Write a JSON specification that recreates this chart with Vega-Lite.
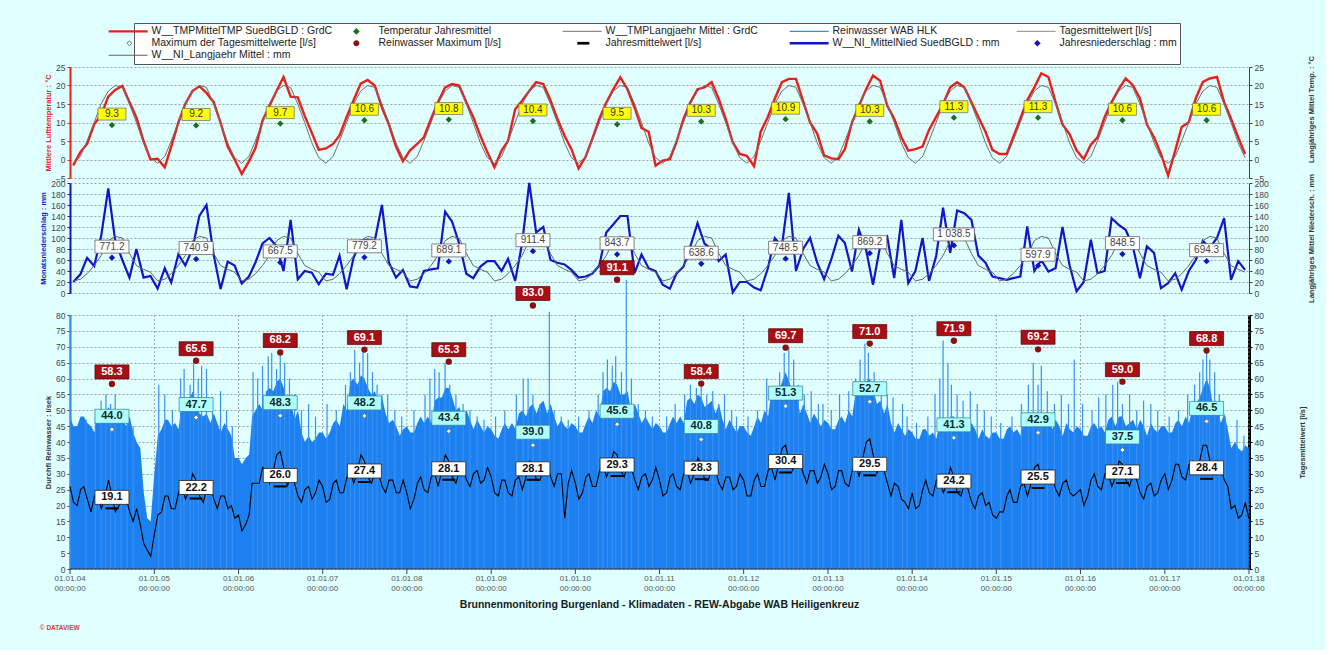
{
"$schema":"https://vega.github.io/schema/vega-lite/v6.json",
"background":"#e0ffff",
"padding":{"left":39,"top":22,"right":10,"bottom":19},
"config":{"font":"Liberation Sans","view":{"stroke":null},
"axis":{"labelFont":"Liberation Sans","titleFont":"Liberation Sans","labelFontSize":8.5,"labelColor":"#444","titleFontSize":7.5,"titleFontWeight":"bold","gridDash":[2,2],"gridColor":"#8a8a8a","gridWidth":0.8,"tickSize":3,"labelPadding":2},
"text":{"font":"Liberation Sans"},"legend":{"labelFont":"Liberation Sans"},"title":{"font":"Liberation Sans"}},
"title":{"text":"© DATAVIEW","orient":"bottom","anchor":"start","fontSize":6.5,"fontWeight":"bold","color":"#d04040","offset":14},
"datasets":{
"m":[
{"t":"2004-01-15","T":-1.6,"TL":-1,"P":20,"PL":22},{"t":"2004-02-15","T":2.0,"TL":0.8,"P":34,"PL":25},{"t":"2004-03-15","T":4.2,"TL":5,"P":64,"PL":35},{"t":"2004-04-15","T":9.5,"TL":10,"P":49,"PL":50},{"t":"2004-05-15","T":12.0,"TL":15,"P":103,"PL":68},{"t":"2004-06-15","T":17.0,"TL":18.5,"P":190,"PL":95},{"t":"2004-07-15","T":18.8,"TL":20,"P":95,"PL":103},{"t":"2004-08-15","T":19.9,"TL":19.5,"P":60,"PL":100},{"t":"2004-09-15","T":15.5,"TL":15,"P":28,"PL":72},{"t":"2004-10-15","T":11.4,"TL":10,"P":80,"PL":50},{"t":"2004-11-15","T":5.0,"TL":4.5,"P":28,"PL":43},{"t":"2004-12-15","T":0.0,"TL":0.5,"P":31,"PL":38},
{"t":"2005-01-15","T":0.2,"TL":-1,"P":8,"PL":22},{"t":"2005-02-15","T":-2.1,"TL":0.8,"P":45,"PL":25},{"t":"2005-03-15","T":3.5,"TL":5,"P":19,"PL":35},{"t":"2005-04-15","T":10.0,"TL":10,"P":70,"PL":50},{"t":"2005-05-15","T":15.0,"TL":15,"P":50,"PL":68},{"t":"2005-06-15","T":18.5,"TL":18.5,"P":80,"PL":95},{"t":"2005-07-15","T":19.8,"TL":20,"P":140,"PL":103},{"t":"2005-08-15","T":18.0,"TL":19.5,"P":160,"PL":100},{"t":"2005-09-15","T":15.5,"TL":15,"P":70,"PL":72},{"t":"2005-10-15","T":10.0,"TL":10,"P":7,"PL":50},{"t":"2005-11-15","T":3.5,"TL":4.5,"P":57,"PL":43},{"t":"2005-12-15","T":0.0,"TL":0.5,"P":50,"PL":38},
{"t":"2006-01-15","T":-3.9,"TL":-1,"P":17,"PL":22},{"t":"2006-02-15","T":-0.5,"TL":0.8,"P":30,"PL":25},{"t":"2006-03-15","T":3.0,"TL":5,"P":55,"PL":35},{"t":"2006-04-15","T":10.5,"TL":10,"P":90,"PL":50},{"t":"2006-05-15","T":14.5,"TL":15,"P":100,"PL":68},{"t":"2006-06-15","T":18.5,"TL":18.5,"P":85,"PL":95},{"t":"2006-07-15","T":22.3,"TL":20,"P":40,"PL":103},{"t":"2006-08-15","T":17.0,"TL":19.5,"P":133,"PL":100},{"t":"2006-09-15","T":16.8,"TL":15,"P":25,"PL":72},{"t":"2006-10-15","T":11.8,"TL":10,"P":40,"PL":50},{"t":"2006-11-15","T":7.2,"TL":4.5,"P":37,"PL":43},{"t":"2006-12-15","T":2.6,"TL":0.5,"P":16,"PL":38},
{"t":"2007-01-15","T":3.0,"TL":-1,"P":35,"PL":22},{"t":"2007-02-15","T":4.2,"TL":0.8,"P":33,"PL":25},{"t":"2007-03-15","T":6.5,"TL":5,"P":68,"PL":35},{"t":"2007-04-15","T":11.5,"TL":10,"P":7,"PL":50},{"t":"2007-05-15","T":16.0,"TL":15,"P":64,"PL":68},{"t":"2007-06-15","T":20.5,"TL":18.5,"P":95,"PL":95},{"t":"2007-07-15","T":21.5,"TL":20,"P":97,"PL":103},{"t":"2007-08-15","T":20.0,"TL":19.5,"P":95,"PL":100},{"t":"2007-09-15","T":14.0,"TL":15,"P":160,"PL":72},{"t":"2007-10-15","T":9.5,"TL":10,"P":56,"PL":50},{"t":"2007-11-15","T":3.5,"TL":4.5,"P":28,"PL":43},{"t":"2007-12-15","T":-0.5,"TL":0.5,"P":42,"PL":38},
{"t":"2008-01-15","T":2.5,"TL":-1,"P":12,"PL":22},{"t":"2008-02-15","T":4.2,"TL":0.8,"P":10,"PL":25},{"t":"2008-03-15","T":6.0,"TL":5,"P":40,"PL":35},{"t":"2008-04-15","T":11.0,"TL":10,"P":43,"PL":50},{"t":"2008-05-15","T":15.5,"TL":15,"P":45,"PL":68},{"t":"2008-06-15","T":19.5,"TL":18.5,"P":148,"PL":95},{"t":"2008-07-15","T":20.4,"TL":20,"P":130,"PL":103},{"t":"2008-08-15","T":20.0,"TL":19.5,"P":90,"PL":100},{"t":"2008-09-15","T":15.5,"TL":15,"P":35,"PL":72},{"t":"2008-10-15","T":11.5,"TL":10,"P":27,"PL":50},{"t":"2008-11-15","T":6.4,"TL":4.5,"P":48,"PL":43},{"t":"2008-12-15","T":2.0,"TL":0.5,"P":58,"PL":38},
{"t":"2009-01-15","T":-2.1,"TL":-1,"P":58,"PL":22},{"t":"2009-02-15","T":2.4,"TL":0.8,"P":40,"PL":25},{"t":"2009-03-15","T":5.0,"TL":5,"P":62,"PL":35},{"t":"2009-04-15","T":13.6,"TL":10,"P":22,"PL":50},{"t":"2009-05-15","T":15.9,"TL":15,"P":90,"PL":68},{"t":"2009-06-15","T":18.5,"TL":18.5,"P":200,"PL":95},{"t":"2009-07-15","T":20.9,"TL":20,"P":110,"PL":103},{"t":"2009-08-15","T":20.4,"TL":19.5,"P":120,"PL":100},{"t":"2009-09-15","T":16.0,"TL":15,"P":60,"PL":72},{"t":"2009-10-15","T":11.0,"TL":10,"P":55,"PL":50},{"t":"2009-11-15","T":6.4,"TL":4.5,"P":52,"PL":43},{"t":"2009-12-15","T":2.8,"TL":0.5,"P":42,"PL":38},
{"t":"2010-01-15","T":-2.4,"TL":-1,"P":28,"PL":22},{"t":"2010-02-15","T":0.8,"TL":0.8,"P":30,"PL":25},{"t":"2010-03-15","T":5.5,"TL":5,"P":35,"PL":35},{"t":"2010-04-15","T":11.0,"TL":10,"P":50,"PL":50},{"t":"2010-05-15","T":15.3,"TL":15,"P":110,"PL":68},{"t":"2010-06-15","T":19.0,"TL":18.5,"P":125,"PL":95},{"t":"2010-07-15","T":22.2,"TL":20,"P":140,"PL":103},{"t":"2010-08-15","T":19.0,"TL":19.5,"P":140,"PL":100},{"t":"2010-09-15","T":14.0,"TL":15,"P":36,"PL":72},{"t":"2010-10-15","T":8.5,"TL":10,"P":70,"PL":50},{"t":"2010-11-15","T":7.5,"TL":4.5,"P":45,"PL":43},{"t":"2010-12-15","T":-1.7,"TL":0.5,"P":40,"PL":38},
{"t":"2011-01-15","T":-0.3,"TL":-1,"P":15,"PL":22},{"t":"2011-02-15","T":0.1,"TL":0.8,"P":8,"PL":25},{"t":"2011-03-15","T":4.6,"TL":5,"P":35,"PL":35},{"t":"2011-04-15","T":11.0,"TL":10,"P":48,"PL":50},{"t":"2011-05-15","T":15.5,"TL":15,"P":85,"PL":68},{"t":"2011-06-15","T":19.0,"TL":18.5,"P":127,"PL":95},{"t":"2011-07-15","T":19.5,"TL":20,"P":90,"PL":103},{"t":"2011-08-15","T":20.9,"TL":19.5,"P":80,"PL":100},{"t":"2011-09-15","T":16.4,"TL":15,"P":58,"PL":72},{"t":"2011-10-15","T":11.0,"TL":10,"P":70,"PL":50},{"t":"2011-11-15","T":4.6,"TL":4.5,"P":1,"PL":43},{"t":"2011-12-15","T":1.5,"TL":0.5,"P":20,"PL":38},
{"t":"2012-01-15","T":1.0,"TL":-1,"P":20,"PL":22},{"t":"2012-02-15","T":-1.8,"TL":0.8,"P":10,"PL":25},{"t":"2012-03-15","T":7.5,"TL":5,"P":5,"PL":35},{"t":"2012-04-15","T":11.5,"TL":10,"P":45,"PL":50},{"t":"2012-05-15","T":16.4,"TL":15,"P":100,"PL":68},{"t":"2012-06-15","T":20.9,"TL":18.5,"P":85,"PL":95},{"t":"2012-07-15","T":21.8,"TL":20,"P":182,"PL":103},{"t":"2012-08-15","T":21.8,"TL":19.5,"P":40,"PL":100},{"t":"2012-09-15","T":15.8,"TL":15,"P":80,"PL":72},{"t":"2012-10-15","T":10.0,"TL":10,"P":100,"PL":50},{"t":"2012-11-15","T":7.0,"TL":4.5,"P":55,"PL":43},{"t":"2012-12-15","T":1.1,"TL":0.5,"P":25,"PL":38},
{"t":"2013-01-15","T":0.3,"TL":-1,"P":61,"PL":22},{"t":"2013-02-15","T":0.1,"TL":0.8,"P":104,"PL":25},{"t":"2013-03-15","T":2.8,"TL":5,"P":91,"PL":35},{"t":"2013-04-15","T":10.0,"TL":10,"P":39,"PL":50},{"t":"2013-05-15","T":14.5,"TL":15,"P":115,"PL":68},{"t":"2013-06-15","T":19.0,"TL":18.5,"P":79,"PL":95},{"t":"2013-07-15","T":22.7,"TL":20,"P":15,"PL":103},{"t":"2013-08-15","T":21.3,"TL":19.5,"P":85,"PL":100},{"t":"2013-09-15","T":14.5,"TL":15,"P":102,"PL":72},{"t":"2013-10-15","T":11.0,"TL":10,"P":27,"PL":50},{"t":"2013-11-15","T":6.0,"TL":4.5,"P":133,"PL":43},{"t":"2013-12-15","T":2.4,"TL":0.5,"P":18,"PL":38},
{"t":"2014-01-15","T":2.8,"TL":-1,"P":40,"PL":22},{"t":"2014-02-15","T":3.5,"TL":0.8,"P":100,"PL":25},{"t":"2014-03-15","T":8.0,"TL":5,"P":22,"PL":35},{"t":"2014-04-15","T":11.5,"TL":10,"P":67,"PL":50},{"t":"2014-05-15","T":15.0,"TL":15,"P":155,"PL":68},{"t":"2014-06-15","T":19.5,"TL":18.5,"P":73,"PL":95},{"t":"2014-07-15","T":20.9,"TL":20,"P":150,"PL":103},{"t":"2014-08-15","T":19.5,"TL":19.5,"P":145,"PL":100},{"t":"2014-09-15","T":15.5,"TL":15,"P":133,"PL":72},{"t":"2014-10-15","T":11.5,"TL":10,"P":68,"PL":50},{"t":"2014-11-15","T":7.5,"TL":4.5,"P":55,"PL":43},{"t":"2014-12-15","T":2.6,"TL":0.5,"P":30,"PL":38},
{"t":"2015-01-15","T":1.5,"TL":-1,"P":27,"PL":22},{"t":"2015-02-15","T":1.5,"TL":0.8,"P":24,"PL":25},{"t":"2015-03-15","T":6.0,"TL":5,"P":27,"PL":35},{"t":"2015-04-15","T":11.0,"TL":10,"P":30,"PL":50},{"t":"2015-05-15","T":16.0,"TL":15,"P":121,"PL":68},{"t":"2015-06-15","T":19.5,"TL":18.5,"P":40,"PL":95},{"t":"2015-07-15","T":23.3,"TL":20,"P":60,"PL":103},{"t":"2015-08-15","T":22.3,"TL":19.5,"P":39,"PL":100},{"t":"2015-09-15","T":15.5,"TL":15,"P":45,"PL":72},{"t":"2015-10-15","T":9.5,"TL":10,"P":120,"PL":50},{"t":"2015-11-15","T":6.8,"TL":4.5,"P":50,"PL":43},{"t":"2015-12-15","T":2.5,"TL":0.5,"P":3,"PL":38},
{"t":"2016-01-15","T":0.1,"TL":-1,"P":20,"PL":22},{"t":"2016-02-15","T":4.0,"TL":0.8,"P":97,"PL":25},{"t":"2016-03-15","T":6.0,"TL":5,"P":36,"PL":35},{"t":"2016-04-15","T":11.5,"TL":10,"P":40,"PL":50},{"t":"2016-05-15","T":15.5,"TL":15,"P":136,"PL":68},{"t":"2016-06-15","T":19.0,"TL":18.5,"P":124,"PL":95},{"t":"2016-07-15","T":21.9,"TL":20,"P":115,"PL":103},{"t":"2016-08-15","T":20.1,"TL":19.5,"P":85,"PL":100},{"t":"2016-09-15","T":16.5,"TL":15,"P":27,"PL":72},{"t":"2016-10-15","T":9.5,"TL":10,"P":85,"PL":50},{"t":"2016-11-15","T":6.0,"TL":4.5,"P":73,"PL":43},{"t":"2016-12-15","T":1.5,"TL":0.5,"P":9,"PL":38},
{"t":"2017-01-15","T":-4.3,"TL":-1,"P":18,"PL":22},{"t":"2017-02-15","T":2.4,"TL":0.8,"P":36,"PL":25},{"t":"2017-03-15","T":8.8,"TL":5,"P":6,"PL":35},{"t":"2017-04-15","T":10.1,"TL":10,"P":40,"PL":50},{"t":"2017-05-15","T":16.5,"TL":15,"P":60,"PL":68},{"t":"2017-06-15","T":21.0,"TL":18.5,"P":95,"PL":95},{"t":"2017-07-15","T":21.9,"TL":20,"P":82,"PL":103},{"t":"2017-08-15","T":22.3,"TL":19.5,"P":100,"PL":100},{"t":"2017-09-15","T":15.5,"TL":15,"P":136,"PL":72},{"t":"2017-10-15","T":11.0,"TL":10,"P":24,"PL":50},{"t":"2017-11-15","T":6.0,"TL":4.5,"P":58,"PL":43},{"t":"2017-12-15","T":1.5,"TL":0.5,"P":42,"PL":38}
],
"yr":[
{"t":"2004-07-01","tm":9.3,"pm":64.3,"pl":"771.2","mx":58.3,"mt":44.0,"jm":19.1},
{"t":"2005-07-01","tm":9.2,"pm":61.7,"pl":"740.9","mx":65.6,"mt":47.7,"jm":22.2},
{"t":"2006-07-01","tm":9.7,"pm":55.6,"pl":"667.5","mx":68.2,"mt":48.3,"jm":26.0},
{"t":"2007-07-01","tm":10.6,"pm":64.9,"pl":"779.2","mx":69.1,"mt":48.2,"jm":27.4},
{"t":"2008-07-01","tm":10.8,"pm":57.4,"pl":"689.1","mx":65.3,"mt":43.4,"jm":28.1},
{"t":"2009-07-01","tm":10.4,"pm":76.0,"pl":"911.4","mx":83.0,"mt":39.0,"jm":28.1},
{"t":"2010-07-01","tm":9.5,"pm":70.3,"pl":"843.7","mx":91.1,"mt":45.6,"jm":29.3},
{"t":"2011-07-01","tm":10.3,"pm":53.2,"pl":"638.6","mx":58.4,"mt":40.8,"jm":28.3},
{"t":"2012-07-01","tm":10.9,"pm":62.4,"pl":"748.5","mx":69.7,"mt":51.3,"jm":30.4},
{"t":"2013-07-01","tm":10.3,"pm":72.4,"pl":"869.2","mx":71.0,"mt":52.7,"jm":29.5},
{"t":"2014-07-01","tm":11.3,"pm":86.5,"pl":"1 038.5","mx":71.9,"mt":41.3,"jm":24.2},
{"t":"2015-07-01","tm":11.3,"pm":49.8,"pl":"597.9","mx":69.2,"mt":42.9,"jm":25.5},
{"t":"2016-07-01","tm":10.6,"pm":70.7,"pl":"848.5","mx":59.0,"mt":37.5,"jm":27.1},
{"t":"2017-07-01","tm":10.6,"pm":57.9,"pl":"694.3","mx":68.8,"mt":46.5,"jm":28.4}
],
"ty":[{"t":"2004-01-01","l":"01.01.04"},{"t":"2005-01-01","l":"01.01.05"},{"t":"2006-01-01","l":"01.01.06"},{"t":"2007-01-01","l":"01.01.07"},{"t":"2008-01-01","l":"01.01.08"},{"t":"2009-01-01","l":"01.01.09"},{"t":"2010-01-01","l":"01.01.10"},{"t":"2011-01-01","l":"01.01.11"},{"t":"2012-01-01","l":"01.01.12"},{"t":"2013-01-01","l":"01.01.13"},{"t":"2014-01-01","l":"01.01.14"},{"t":"2015-01-01","l":"01.01.15"},{"t":"2016-01-01","l":"01.01.16"},{"t":"2017-01-01","l":"01.01.17"},{"t":"2018-01-01","l":"01.01.18"}],
"f":[
{"t":"2004-01-01","b":48,"k":26},{"t":"2004-01-16","b":45,"k":21},{"t":"2004-02-01","b":45,"k":20},{"t":"2004-02-16","b":48,"k":25},{"t":"2004-03-01","b":48,"k":26},{"t":"2004-03-16","b":46,"k":22},{"t":"2004-04-01","b":45,"k":18},{"t":"2004-04-16","b":43,"k":23},{"t":"2004-05-01","b":49,"k":23},{"t":"2004-05-16","b":50,"k":19},{"t":"2004-06-01","b":48,"k":23},{"t":"2004-06-16","b":51,"k":28},{"t":"2004-07-01","b":49,"k":23},{"t":"2004-07-16","b":46,"k":18},{"t":"2004-08-01","b":46,"k":20},{"t":"2004-08-16","b":47,"k":24},{"t":"2004-09-01","b":45,"k":22},{"t":"2004-09-16","b":48,"k":18},{"t":"2004-10-01","b":43,"k":15},{"t":"2004-10-16","b":40,"k":19},{"t":"2004-11-01","b":38,"k":14},{"t":"2004-11-16","b":24,"k":8},{"t":"2004-12-01","b":16,"k":6},{"t":"2004-12-16","b":15,"k":4},
{"t":"2005-01-01","b":30,"k":11},{"t":"2005-01-16","b":42,"k":17},{"t":"2005-02-01","b":44,"k":18},{"t":"2005-02-16","b":47,"k":23},{"t":"2005-03-01","b":47,"k":23},{"t":"2005-03-16","b":45,"k":19},{"t":"2005-04-01","b":46,"k":19},{"t":"2005-04-16","b":44,"k":24},{"t":"2005-05-01","b":53,"k":26},{"t":"2005-05-16","b":54,"k":22},{"t":"2005-06-01","b":53,"k":25},{"t":"2005-06-16","b":56,"k":30},{"t":"2005-07-01","b":52,"k":28},{"t":"2005-07-16","b":49,"k":23},{"t":"2005-08-01","b":48,"k":21},{"t":"2005-08-16","b":49,"k":25},{"t":"2005-09-01","b":46,"k":26},{"t":"2005-09-16","b":49,"k":22},{"t":"2005-10-01","b":46,"k":19},{"t":"2005-10-16","b":43,"k":23},{"t":"2005-11-01","b":46,"k":23},{"t":"2005-11-16","b":44,"k":19},{"t":"2005-12-01","b":42,"k":20},{"t":"2005-12-16","b":35,"k":16},
{"t":"2006-01-01","b":35,"k":17},{"t":"2006-01-16","b":33,"k":12},{"t":"2006-02-01","b":35,"k":14},{"t":"2006-02-16","b":36,"k":17},{"t":"2006-03-01","b":48,"k":27},{"t":"2006-03-16","b":50,"k":27},{"t":"2006-04-01","b":52,"k":27},{"t":"2006-04-16","b":50,"k":32},{"t":"2006-05-01","b":56,"k":31},{"t":"2006-05-16","b":57,"k":27},{"t":"2006-06-01","b":56,"k":31},{"t":"2006-06-16","b":59,"k":36},{"t":"2006-07-01","b":60,"k":37},{"t":"2006-07-16","b":57,"k":32},{"t":"2006-08-01","b":52,"k":26},{"t":"2006-08-16","b":53,"k":30},{"t":"2006-09-01","b":47,"k":27},{"t":"2006-09-16","b":50,"k":23},{"t":"2006-10-01","b":43,"k":21},{"t":"2006-10-16","b":40,"k":25},{"t":"2006-11-01","b":42,"k":26},{"t":"2006-11-16","b":40,"k":22},{"t":"2006-12-01","b":41,"k":24},{"t":"2006-12-16","b":43,"k":28},
{"t":"2007-01-01","b":43,"k":26},{"t":"2007-01-16","b":41,"k":21},{"t":"2007-02-01","b":43,"k":22},{"t":"2007-02-16","b":46,"k":27},{"t":"2007-03-01","b":47,"k":28},{"t":"2007-03-16","b":45,"k":24},{"t":"2007-04-01","b":52,"k":24},{"t":"2007-04-16","b":50,"k":29},{"t":"2007-05-01","b":59,"k":31},{"t":"2007-05-16","b":60,"k":27},{"t":"2007-06-01","b":58,"k":31},{"t":"2007-06-16","b":61,"k":36},{"t":"2007-07-01","b":60,"k":34},{"t":"2007-07-16","b":57,"k":29},{"t":"2007-08-01","b":55,"k":27},{"t":"2007-08-16","b":56,"k":31},{"t":"2007-09-01","b":51,"k":30},{"t":"2007-09-16","b":54,"k":26},{"t":"2007-10-01","b":49,"k":24},{"t":"2007-10-16","b":46,"k":28},{"t":"2007-11-01","b":47,"k":28},{"t":"2007-11-16","b":45,"k":24},{"t":"2007-12-01","b":42,"k":24},{"t":"2007-12-16","b":44,"k":28},
{"t":"2008-01-01","b":45,"k":24},{"t":"2008-01-16","b":43,"k":19},{"t":"2008-02-01","b":43,"k":22},{"t":"2008-02-16","b":46,"k":27},{"t":"2008-03-01","b":48,"k":29},{"t":"2008-03-16","b":46,"k":25},{"t":"2008-04-01","b":48,"k":24},{"t":"2008-04-16","b":46,"k":29},{"t":"2008-05-01","b":53,"k":30},{"t":"2008-05-16","b":54,"k":26},{"t":"2008-06-01","b":54,"k":31},{"t":"2008-06-16","b":57,"k":36},{"t":"2008-07-01","b":57,"k":34},{"t":"2008-07-16","b":54,"k":29},{"t":"2008-08-01","b":50,"k":27},{"t":"2008-08-16","b":51,"k":31},{"t":"2008-09-01","b":47,"k":32},{"t":"2008-09-16","b":50,"k":28},{"t":"2008-10-01","b":47,"k":26},{"t":"2008-10-16","b":44,"k":30},{"t":"2008-11-01","b":47,"k":31},{"t":"2008-11-16","b":45,"k":27},{"t":"2008-12-01","b":43,"k":28},{"t":"2008-12-16","b":45,"k":32},
{"t":"2009-01-01","b":44,"k":29},{"t":"2009-01-16","b":42,"k":24},{"t":"2009-02-01","b":41,"k":23},{"t":"2009-02-16","b":44,"k":28},{"t":"2009-03-01","b":46,"k":28},{"t":"2009-03-16","b":44,"k":24},{"t":"2009-04-01","b":46,"k":23},{"t":"2009-04-16","b":44,"k":28},{"t":"2009-05-01","b":49,"k":29},{"t":"2009-05-16","b":50,"k":25},{"t":"2009-06-01","b":48,"k":29},{"t":"2009-06-16","b":51,"k":34},{"t":"2009-07-01","b":52,"k":33},{"t":"2009-07-16","b":49,"k":28},{"t":"2009-08-01","b":52,"k":28},{"t":"2009-08-16","b":53,"k":32},{"t":"2009-09-01","b":49,"k":33},{"t":"2009-09-16","b":52,"k":29},{"t":"2009-10-01","b":48,"k":26},{"t":"2009-10-16","b":45,"k":30},{"t":"2009-11-01","b":47,"k":30},{"t":"2009-11-16","b":45,"k":16},{"t":"2009-12-01","b":44,"k":27},{"t":"2009-12-16","b":46,"k":31},
{"t":"2010-01-01","b":45,"k":27},{"t":"2010-01-16","b":43,"k":22},{"t":"2010-02-01","b":43,"k":24},{"t":"2010-02-16","b":46,"k":29},{"t":"2010-03-01","b":48,"k":30},{"t":"2010-03-16","b":46,"k":26},{"t":"2010-04-01","b":50,"k":26},{"t":"2010-04-16","b":48,"k":31},{"t":"2010-05-01","b":56,"k":33},{"t":"2010-05-16","b":57,"k":29},{"t":"2010-06-01","b":56,"k":32},{"t":"2010-06-16","b":59,"k":37},{"t":"2010-07-01","b":58,"k":36},{"t":"2010-07-16","b":55,"k":31},{"t":"2010-08-01","b":55,"k":29},{"t":"2010-08-16","b":56,"k":33},{"t":"2010-09-01","b":49,"k":32},{"t":"2010-09-16","b":52,"k":28},{"t":"2010-10-01","b":49,"k":25},{"t":"2010-10-16","b":46,"k":29},{"t":"2010-11-01","b":48,"k":30},{"t":"2010-11-16","b":46,"k":26},{"t":"2010-12-01","b":44,"k":28},{"t":"2010-12-16","b":46,"k":32},
{"t":"2011-01-01","b":45,"k":28},{"t":"2011-01-16","b":43,"k":23},{"t":"2011-02-01","b":43,"k":24},{"t":"2011-02-16","b":46,"k":29},{"t":"2011-03-01","b":48,"k":30},{"t":"2011-03-16","b":46,"k":26},{"t":"2011-04-01","b":48,"k":25},{"t":"2011-04-16","b":46,"k":30},{"t":"2011-05-01","b":53,"k":31},{"t":"2011-05-16","b":54,"k":27},{"t":"2011-06-01","b":52,"k":30},{"t":"2011-06-16","b":55,"k":35},{"t":"2011-07-01","b":54,"k":33},{"t":"2011-07-16","b":51,"k":28},{"t":"2011-08-01","b":52,"k":28},{"t":"2011-08-16","b":53,"k":32},{"t":"2011-09-01","b":49,"k":31},{"t":"2011-09-16","b":52,"k":27},{"t":"2011-10-01","b":47,"k":25},{"t":"2011-10-16","b":44,"k":29},{"t":"2011-11-01","b":47,"k":29},{"t":"2011-11-16","b":45,"k":25},{"t":"2011-12-01","b":43,"k":26},{"t":"2011-12-16","b":45,"k":30},
{"t":"2012-01-01","b":45,"k":28},{"t":"2012-01-16","b":43,"k":23},{"t":"2012-02-01","b":42,"k":23},{"t":"2012-02-16","b":45,"k":28},{"t":"2012-03-01","b":48,"k":30},{"t":"2012-03-16","b":46,"k":26},{"t":"2012-04-01","b":50,"k":26},{"t":"2012-04-16","b":48,"k":31},{"t":"2012-05-01","b":56,"k":32},{"t":"2012-05-16","b":57,"k":28},{"t":"2012-06-01","b":56,"k":33},{"t":"2012-06-16","b":59,"k":38},{"t":"2012-07-01","b":62,"k":39},{"t":"2012-07-16","b":59,"k":34},{"t":"2012-08-01","b":56,"k":31},{"t":"2012-08-16","b":57,"k":35},{"t":"2012-09-01","b":49,"k":34},{"t":"2012-09-16","b":52,"k":30},{"t":"2012-10-01","b":49,"k":27},{"t":"2012-10-16","b":46,"k":31},{"t":"2012-11-01","b":49,"k":31},{"t":"2012-11-16","b":47,"k":27},{"t":"2012-12-01","b":45,"k":29},{"t":"2012-12-16","b":47,"k":33},
{"t":"2013-01-01","b":46,"k":30},{"t":"2013-01-16","b":44,"k":25},{"t":"2013-02-01","b":44,"k":26},{"t":"2013-02-16","b":47,"k":31},{"t":"2013-03-01","b":48,"k":31},{"t":"2013-03-16","b":46,"k":27},{"t":"2013-04-01","b":50,"k":26},{"t":"2013-04-16","b":48,"k":31},{"t":"2013-05-01","b":56,"k":33},{"t":"2013-05-16","b":57,"k":29},{"t":"2013-06-01","b":56,"k":35},{"t":"2013-06-16","b":59,"k":40},{"t":"2013-07-01","b":60,"k":41},{"t":"2013-07-16","b":57,"k":36},{"t":"2013-08-01","b":52,"k":30},{"t":"2013-08-16","b":53,"k":34},{"t":"2013-09-01","b":49,"k":31},{"t":"2013-09-16","b":52,"k":27},{"t":"2013-10-01","b":46,"k":23},{"t":"2013-10-16","b":43,"k":27},{"t":"2013-11-01","b":46,"k":26},{"t":"2013-11-16","b":44,"k":22},{"t":"2013-12-01","b":42,"k":21},{"t":"2013-12-16","b":44,"k":19},
{"t":"2014-01-01","b":43,"k":24},{"t":"2014-01-16","b":41,"k":19},{"t":"2014-02-01","b":41,"k":20},{"t":"2014-02-16","b":44,"k":25},{"t":"2014-03-01","b":44,"k":28},{"t":"2014-03-16","b":42,"k":24},{"t":"2014-04-01","b":43,"k":23},{"t":"2014-04-16","b":41,"k":28},{"t":"2014-05-01","b":46,"k":28},{"t":"2014-05-16","b":47,"k":24},{"t":"2014-06-01","b":45,"k":27},{"t":"2014-06-16","b":48,"k":32},{"t":"2014-07-01","b":48,"k":29},{"t":"2014-07-16","b":45,"k":24},{"t":"2014-08-01","b":45,"k":23},{"t":"2014-08-16","b":46,"k":27},{"t":"2014-09-01","b":43,"k":25},{"t":"2014-09-16","b":46,"k":21},{"t":"2014-10-01","b":44,"k":19},{"t":"2014-10-16","b":41,"k":23},{"t":"2014-11-01","b":44,"k":24},{"t":"2014-11-16","b":42,"k":20},{"t":"2014-12-01","b":41,"k":21},{"t":"2014-12-16","b":43,"k":17},
{"t":"2015-01-01","b":43,"k":16},{"t":"2015-01-16","b":41,"k":18},{"t":"2015-02-01","b":41,"k":18},{"t":"2015-02-16","b":44,"k":23},{"t":"2015-03-01","b":45,"k":25},{"t":"2015-03-16","b":43,"k":21},{"t":"2015-04-01","b":44,"k":21},{"t":"2015-04-16","b":42,"k":26},{"t":"2015-05-01","b":47,"k":27},{"t":"2015-05-16","b":48,"k":23},{"t":"2015-06-01","b":46,"k":27},{"t":"2015-06-16","b":49,"k":32},{"t":"2015-07-01","b":49,"k":33},{"t":"2015-07-16","b":46,"k":28},{"t":"2015-08-01","b":46,"k":27},{"t":"2015-08-16","b":47,"k":31},{"t":"2015-09-01","b":44,"k":29},{"t":"2015-09-16","b":47,"k":25},{"t":"2015-10-01","b":45,"k":23},{"t":"2015-10-16","b":42,"k":27},{"t":"2015-11-01","b":46,"k":28},{"t":"2015-11-16","b":44,"k":24},{"t":"2015-12-01","b":43,"k":23},{"t":"2015-12-16","b":45,"k":24},
{"t":"2016-01-01","b":44,"k":25},{"t":"2016-01-16","b":42,"k":20},{"t":"2016-02-01","b":42,"k":23},{"t":"2016-02-16","b":45,"k":28},{"t":"2016-03-01","b":46,"k":30},{"t":"2016-03-16","b":44,"k":26},{"t":"2016-04-01","b":45,"k":25},{"t":"2016-04-16","b":43,"k":30},{"t":"2016-05-01","b":47,"k":30},{"t":"2016-05-16","b":48,"k":26},{"t":"2016-06-01","b":45,"k":29},{"t":"2016-06-16","b":48,"k":34},{"t":"2016-07-01","b":48,"k":33},{"t":"2016-07-16","b":45,"k":28},{"t":"2016-08-01","b":46,"k":26},{"t":"2016-08-16","b":47,"k":30},{"t":"2016-09-01","b":44,"k":28},{"t":"2016-09-16","b":47,"k":24},{"t":"2016-10-01","b":45,"k":22},{"t":"2016-10-16","b":42,"k":26},{"t":"2016-11-01","b":46,"k":27},{"t":"2016-11-16","b":44,"k":23},{"t":"2016-12-01","b":43,"k":24},{"t":"2016-12-16","b":45,"k":28},
{"t":"2017-01-01","b":45,"k":30},{"t":"2017-01-16","b":43,"k":25},{"t":"2017-02-01","b":43,"k":28},{"t":"2017-02-16","b":46,"k":33},{"t":"2017-03-01","b":47,"k":33},{"t":"2017-03-16","b":45,"k":29},{"t":"2017-04-01","b":48,"k":28},{"t":"2017-04-16","b":46,"k":33},{"t":"2017-05-01","b":51,"k":34},{"t":"2017-05-16","b":52,"k":30},{"t":"2017-06-01","b":54,"k":34},{"t":"2017-06-16","b":57,"k":39},{"t":"2017-07-01","b":60,"k":39},{"t":"2017-07-16","b":57,"k":34},{"t":"2017-08-01","b":50,"k":30},{"t":"2017-08-16","b":51,"k":34},{"t":"2017-09-01","b":46,"k":32},{"t":"2017-09-16","b":49,"k":28},{"t":"2017-10-01","b":44,"k":26},{"t":"2017-10-16","b":38,"k":19},{"t":"2017-11-01","b":40,"k":20},{"t":"2017-11-16","b":38,"k":16},{"t":"2017-12-01","b":37,"k":17},{"t":"2017-12-16","b":39,"k":21},{"t":"2017-12-31","b":38,"k":16}
],
"s":[
{"t":"2004-01-02","v":80},{"t":"2004-03-10","v":47},{"t":"2004-04-20","v":48},{"t":"2004-05-15","v":53},{"t":"2004-06-05","v":55},{"t":"2004-06-25","v":52},{"t":"2004-07-15","v":55},{"t":"2004-08-10","v":50},{"t":"2004-09-05","v":48},{"t":"2004-10-01","v":45},
{"t":"2005-01-20","v":58},{"t":"2005-02-15","v":55},{"t":"2005-03-20","v":50},{"t":"2005-04-25","v":60},{"t":"2005-05-10","v":63},{"t":"2005-06-05","v":58},{"t":"2005-06-20","v":65},{"t":"2005-07-10","v":60},{"t":"2005-07-25","v":64},{"t":"2005-08-15","v":63},{"t":"2005-09-10","v":52},{"t":"2005-10-15","v":56},{"t":"2005-11-10","v":50},{"t":"2005-12-05","v":45},
{"t":"2006-03-05","v":62},{"t":"2006-03-25","v":60},{"t":"2006-04-15","v":64},{"t":"2006-05-10","v":67},{"t":"2006-05-25","v":68},{"t":"2006-06-15","v":63},{"t":"2006-07-01","v":68},{"t":"2006-07-20","v":65},{"t":"2006-08-10","v":60},{"t":"2006-09-01","v":55},{"t":"2006-10-01","v":50},{"t":"2006-11-01","v":52},{"t":"2006-12-01","v":48},
{"t":"2007-01-20","v":52},{"t":"2007-03-01","v":50},{"t":"2007-04-10","v":58},{"t":"2007-05-01","v":62},{"t":"2007-05-20","v":69},{"t":"2007-06-10","v":65},{"t":"2007-06-25","v":69},{"t":"2007-07-15","v":68},{"t":"2007-08-05","v":62},{"t":"2007-08-25","v":58},{"t":"2007-09-15","v":55},{"t":"2007-10-10","v":55},{"t":"2007-11-10","v":50},{"t":"2007-12-10","v":48},
{"t":"2008-02-01","v":50},{"t":"2008-03-20","v":55},{"t":"2008-04-10","v":60},{"t":"2008-05-01","v":63},{"t":"2008-05-20","v":62},{"t":"2008-06-15","v":65},{"t":"2008-07-05","v":58},{"t":"2008-08-01","v":55},{"t":"2008-09-01","v":52},{"t":"2008-10-01","v":50},{"t":"2008-11-01","v":48},{"t":"2008-12-01","v":47},
{"t":"2009-01-20","v":48},{"t":"2009-03-01","v":50},{"t":"2009-04-20","v":55},{"t":"2009-05-20","v":60},{"t":"2009-06-10","v":60},{"t":"2009-07-01","v":55},{"t":"2009-08-01","v":52},{"t":"2009-09-10","v":81},{"t":"2009-10-01","v":50},{"t":"2009-11-01","v":48},{"t":"2009-12-01","v":47},
{"t":"2010-01-15","v":48},{"t":"2010-03-01","v":50},{"t":"2010-04-10","v":55},{"t":"2010-05-01","v":62},{"t":"2010-05-20","v":66},{"t":"2010-06-10","v":64},{"t":"2010-06-25","v":67},{"t":"2010-07-20","v":62},{"t":"2010-08-10","v":91},{"t":"2010-09-01","v":60},{"t":"2010-10-01","v":52},{"t":"2010-11-01","v":50},{"t":"2010-12-01","v":48},
{"t":"2011-02-01","v":48},{"t":"2011-03-10","v":52},{"t":"2011-04-20","v":55},{"t":"2011-05-15","v":58},{"t":"2011-06-10","v":57},{"t":"2011-07-01","v":58},{"t":"2011-07-25","v":55},{"t":"2011-08-20","v":56},{"t":"2011-09-15","v":52},{"t":"2011-10-10","v":55},{"t":"2011-11-10","v":50},{"t":"2011-12-01","v":48},
{"t":"2012-01-20","v":48},{"t":"2012-03-01","v":50},{"t":"2012-04-10","v":60},{"t":"2012-05-10","v":55},{"t":"2012-06-05","v":62},{"t":"2012-06-25","v":68},{"t":"2012-07-15","v":70},{"t":"2012-08-05","v":66},{"t":"2012-08-25","v":58},{"t":"2012-09-20","v":55},{"t":"2012-10-20","v":56},{"t":"2012-11-20","v":52},{"t":"2012-12-10","v":52},
{"t":"2013-01-15","v":50},{"t":"2013-02-20","v":55},{"t":"2013-04-01","v":56},{"t":"2013-05-01","v":60},{"t":"2013-05-20","v":66},{"t":"2013-06-10","v":71},{"t":"2013-06-25","v":68},{"t":"2013-07-20","v":62},{"t":"2013-08-20","v":56},{"t":"2013-09-15","v":55},{"t":"2013-10-10","v":54},{"t":"2013-11-20","v":52},{"t":"2013-12-10","v":48},
{"t":"2014-01-20","v":46},{"t":"2014-03-10","v":48},{"t":"2014-04-10","v":55},{"t":"2014-05-01","v":60},{"t":"2014-05-15","v":72},{"t":"2014-06-05","v":65},{"t":"2014-06-20","v":58},{"t":"2014-07-15","v":55},{"t":"2014-08-10","v":53},{"t":"2014-09-10","v":56},{"t":"2014-10-10","v":52},{"t":"2014-11-10","v":50},{"t":"2014-12-10","v":48},
{"t":"2015-01-20","v":46},{"t":"2015-03-10","v":48},{"t":"2015-04-20","v":52},{"t":"2015-05-20","v":58},{"t":"2015-06-10","v":65},{"t":"2015-07-01","v":58},{"t":"2015-07-15","v":64},{"t":"2015-08-10","v":56},{"t":"2015-09-10","v":52},{"t":"2015-10-10","v":55},{"t":"2015-11-10","v":52},{"t":"2015-12-05","v":66},
{"t":"2016-01-10","v":52},{"t":"2016-02-20","v":50},{"t":"2016-03-20","v":54},{"t":"2016-04-20","v":55},{"t":"2016-05-20","v":58},{"t":"2016-06-10","v":59},{"t":"2016-07-01","v":52},{"t":"2016-08-01","v":55},{"t":"2016-09-01","v":50},{"t":"2016-10-01","v":53},{"t":"2016-11-01","v":52},{"t":"2016-12-01","v":50},
{"t":"2017-01-20","v":48},{"t":"2017-03-01","v":50},{"t":"2017-04-10","v":55},{"t":"2017-05-10","v":58},{"t":"2017-06-01","v":62},{"t":"2017-06-15","v":66},{"t":"2017-07-01","v":69},{"t":"2017-07-15","v":66},{"t":"2017-08-05","v":62},{"t":"2017-08-25","v":55},{"t":"2017-09-20","v":48},{"t":"2017-11-10","v":47},{"t":"2017-12-10","v":42}
]},
"spacing":-44,
"vconcat":[
{"spacing":-10,
"vconcat":[
{"width":1179,"height":111,
"resolve":{"scale":{"y":"independent"}},
"layer":[
{"data":{"name":"m"},"mark":{"type":"line","color":"#e8201c","strokeWidth":2.4},
"encoding":{"x":{"field":"t","type":"temporal","scale":{"type":"utc","domain":[{"year":2004,"month":1,"date":1,"utc":true},{"year":2018,"month":1,"date":1,"utc":true}],"nice":false},"axis":{"title":null,"labels":false,"ticks":false,"domain":false,"grid":true,"tickCount":{"interval":"year","step":1}}},
"y":{"field":"T","type":"quantitative","scale":{"domain":[-5,25],"nice":false,"zero":false},"axis":{"title":"Mittlere Lufttemperatur : °C","titleColor":"#e8201c","titlePadding":3,"values":[-5,0,5,10,15,20,25],"domainColor":"#e8201c","domainWidth":2,"tickColor":"#e8201c","grid":true}}}},
{"data":{"name":"m"},"mark":{"type":"line","color":"#6e6e6e","strokeWidth":1},
"encoding":{"x":{"field":"t","type":"temporal","scale":{"type":"utc","domain":[{"year":2004,"month":1,"date":1,"utc":true},{"year":2018,"month":1,"date":1,"utc":true}],"nice":false},"axis":null},
"y":{"field":"TL","type":"quantitative","scale":{"domain":[-5,25],"nice":false,"zero":false},"axis":{"orient":"right","title":"Langjähriges Mittel Temp. : °C","titleColor":"#333","titleAngle":-90,"titleBaseline":"top","titlePadding":44,"titleY":42,"values":[-5,0,5,10,15,20,25],"domainColor":"#444","tickColor":"#444","grid":false}}}},
{"data":{"name":"yr"},
"layer":[
{"mark":{"type":"point","shape":"diamond","filled":true,"color":"#1b6e1b","size":40,"opacity":1},
"encoding":{"x":{"field":"t","type":"temporal","scale":{"type":"utc","domain":[{"year":2004,"month":1,"date":1,"utc":true},{"year":2018,"month":1,"date":1,"utc":true}],"nice":false},"axis":null},"y":{"field":"tm","type":"quantitative","scale":{"domain":[-5,25],"nice":false,"zero":false},"axis":null}}},
{"mark":{"type":"point","shape":"M-2.8,-1.2H2.8V1.2H-2.8Z","filled":true,"fill":"#ffff00","stroke":"#666","strokeWidth":0.7,"size":100,"yOffset":-11,"opacity":1},
"encoding":{"x":{"field":"t","type":"temporal","scale":{"type":"utc","domain":[{"year":2004,"month":1,"date":1,"utc":true},{"year":2018,"month":1,"date":1,"utc":true}],"nice":false},"axis":null},"y":{"field":"tm","type":"quantitative","scale":{"domain":[-5,25],"nice":false,"zero":false},"axis":null}}},
{"mark":{"type":"text","fontSize":10,"color":"#333","yOffset":-11,"baseline":"middle"},
"encoding":{"x":{"field":"t","type":"temporal","scale":{"type":"utc","domain":[{"year":2004,"month":1,"date":1,"utc":true},{"year":2018,"month":1,"date":1,"utc":true}],"nice":false},"axis":null},"y":{"field":"tm","type":"quantitative","scale":{"domain":[-5,25],"nice":false,"zero":false},"axis":null},"text":{"field":"tm","type":"quantitative","format":".1f"}}},
{"mark":{"type":"point","filled":true,"opacity":0},
"encoding":{"x":{"field":"t","type":"temporal","scale":{"type":"utc","domain":[{"year":2004,"month":1,"date":1,"utc":true},{"year":2018,"month":1,"date":1,"utc":true}],"nice":false},"axis":null},"y":{"field":"tm","type":"quantitative","scale":{"domain":[-5,25],"nice":false,"zero":false},"axis":null},
"fill":{"datum":"Temperatur Jahresmittel","type":"nominal","scale":{"domain":["W__TMPMittelTMP SuedBGLD : GrdC","Temperatur Jahresmittel","W__TMPLangjaehr Mittel : GrdC","Reinwasser WAB HLK","Tagesmittelwert [l/s]","Maximum der Tagesmittelwerte [l/s]","Reinwasser Maximum [l/s]","Jahresmittelwert [l/s]","W__NI_MittelNied SuedBGLD : mm","Jahresniederschlag : mm","W__NI_Langjaehr Mittel : mm"],"range":["#e8201c","#1b6e1b","#8c8c8c","#3c8ce6","#a0a0a0","#ffffff","#8b1010","#000000","#1414c8","#1414b4","#606060"]},
"legend":{"title":null,"orient":"none","direction":"horizontal","legendX":64,"legendY":-44,"columns":5,"gridAlign":"all","symbolSize":36,"symbolOpacity":1,"labelFontSize":10.5,"labelColor":"#222","fillColor":"#ffffff","strokeColor":"#555","padding":3,"rowPadding":0,"columnPadding":0,"labelLimit":400,"symbolStrokeWidth":1,"labelOffset":4}},
"stroke":{"datum":"Temperatur Jahresmittel","type":"nominal","scale":{"domain":["W__TMPMittelTMP SuedBGLD : GrdC","Temperatur Jahresmittel","W__TMPLangjaehr Mittel : GrdC","Reinwasser WAB HLK","Tagesmittelwert [l/s]","Maximum der Tagesmittelwerte [l/s]","Reinwasser Maximum [l/s]","Jahresmittelwert [l/s]","W__NI_MittelNied SuedBGLD : mm","Jahresniederschlag : mm","W__NI_Langjaehr Mittel : mm"],"range":["transparent","transparent","transparent","transparent","transparent","#5a7890","transparent","transparent","transparent","transparent","transparent"]},
"legend":{"title":null,"orient":"none","direction":"horizontal","legendX":64,"legendY":-44,"columns":5,"gridAlign":"all","symbolSize":36,"symbolOpacity":1,"labelFontSize":10.5,"labelColor":"#222","fillColor":"#ffffff","strokeColor":"#555","padding":3,"rowPadding":0,"columnPadding":0,"labelLimit":400,"symbolStrokeWidth":1,"labelOffset":4}},
"shape":{"datum":"Temperatur Jahresmittel","type":"nominal","scale":{"domain":["W__TMPMittelTMP SuedBGLD : GrdC","Temperatur Jahresmittel","W__TMPLangjaehr Mittel : GrdC","Reinwasser WAB HLK","Tagesmittelwert [l/s]","Maximum der Tagesmittelwerte [l/s]","Reinwasser Maximum [l/s]","Jahresmittelwert [l/s]","W__NI_MittelNied SuedBGLD : mm","Jahresniederschlag : mm","W__NI_Langjaehr Mittel : mm"],"range":["M-11.2,-0.4H1.8V0.4H-11.2Z","M-11.2,0L-11.2,0M-4.3,-1.1L-3.2,0L-4.3,1.1L-5.4,0Z","M-11.2,-0.17H1.8V0.17H-11.2Z","M-11.2,-0.2H1.8V0.2H-11.2Z","M-11.2,-0.17H1.8V0.17H-11.2Z","M-11.2,0L-11.2,0M-4.3,-0.8L-3.5,0L-4.3,0.8L-5.1,0Z","M-11.2,0L-11.2,0M-5.3,0A1,1 0 1,0 -3.3,0A1,1 0 1,0 -5.3,0Z","M-11.2,0L-11.2,0M-6.3,-0.45H-2.3V0.45H-6.3Z","M-11.2,-0.45H1.8V0.45H-11.2Z","M-11.2,0L-11.2,0M-4.3,-1.1L-3.2,0L-4.3,1.1L-5.4,0Z","M-11.2,-0.17H1.8V0.17H-11.2Z"]},
"legend":{"title":null,"orient":"none","direction":"horizontal","legendX":64,"legendY":-44,"columns":5,"gridAlign":"all","symbolSize":36,"symbolOpacity":1,"labelFontSize":10.5,"labelColor":"#222","fillColor":"#ffffff","strokeColor":"#555","padding":3,"rowPadding":0,"columnPadding":0,"labelLimit":400,"symbolStrokeWidth":1,"labelOffset":4}}}}
]}
]},
{"width":1179,"height":110,
"resolve":{"scale":{"y":"independent"}},
"layer":[
{"data":{"name":"m"},"mark":{"type":"line","color":"#1414c8","strokeWidth":2.2},
"encoding":{"x":{"field":"t","type":"temporal","scale":{"type":"utc","domain":[{"year":2004,"month":1,"date":1,"utc":true},{"year":2018,"month":1,"date":1,"utc":true}],"nice":false},"axis":{"title":null,"labels":false,"ticks":false,"domain":false,"grid":true,"tickCount":{"interval":"year","step":1}}},
"y":{"field":"P","type":"quantitative","scale":{"domain":[0,200],"nice":false},"axis":{"title":"Monatsniederschlag : mm","titleColor":"#1414c8","titlePadding":3,"values":[0,20,40,60,80,100,120,140,160,180,200],"domainColor":"#1414c8","domainWidth":2,"tickColor":"#1414c8","grid":true}}}},
{"data":{"name":"m"},"mark":{"type":"line","color":"#666","strokeWidth":1},
"encoding":{"x":{"field":"t","type":"temporal","scale":{"type":"utc","domain":[{"year":2004,"month":1,"date":1,"utc":true},{"year":2018,"month":1,"date":1,"utc":true}],"nice":false},"axis":null},
"y":{"field":"PL","type":"quantitative","scale":{"domain":[0,200],"nice":false},"axis":{"orient":"right","title":"Langjähriges Mittel Niedersch. : mm","titleColor":"#333","titleAngle":-90,"titleBaseline":"top","titlePadding":39,"values":[0,20,40,60,80,100,120,140,160,180,200],"domainColor":"#444","tickColor":"#444","grid":false}}}},
{"data":{"name":"yr"},
"layer":[
{"mark":{"type":"point","shape":"diamond","filled":true,"color":"#1414b4","size":40,"opacity":1},
"encoding":{"x":{"field":"t","type":"temporal","scale":{"type":"utc","domain":[{"year":2004,"month":1,"date":1,"utc":true},{"year":2018,"month":1,"date":1,"utc":true}],"nice":false},"axis":null},"y":{"field":"pm","type":"quantitative","scale":{"domain":[0,200],"nice":false},"axis":null}}},
{"mark":{"type":"point","filled":true,"fill":"#ffffff","stroke":"#666","strokeWidth":0.8,"size":100,"yOffset":-11,"opacity":1},
"encoding":{"x":{"field":"t","type":"temporal","scale":{"type":"utc","domain":[{"year":2004,"month":1,"date":1,"utc":true},{"year":2018,"month":1,"date":1,"utc":true}],"nice":false},"axis":null},"y":{"field":"pm","type":"quantitative","scale":{"domain":[0,200],"nice":false},"axis":null},
"shape":{"condition":{"test":"length(datum.pl) > 5","value":"M-4.1,-1.3H4.1V1.3H-4.1Z"},"value":"M-3.4,-1.3H3.4V1.3H-3.4Z"}}},
{"mark":{"type":"text","fontSize":10,"color":"#444","yOffset":-11,"baseline":"middle"},
"encoding":{"x":{"field":"t","type":"temporal","scale":{"type":"utc","domain":[{"year":2004,"month":1,"date":1,"utc":true},{"year":2018,"month":1,"date":1,"utc":true}],"nice":false},"axis":null},"y":{"field":"pm","type":"quantitative","scale":{"domain":[0,200],"nice":false},"axis":null},"text":{"field":"pl","type":"nominal"}}}
]}
]}
]},
{"width":1179,"height":254,
"resolve":{"scale":{"y":"independent"}},
"layer":[
{"data":{"name":"ty"},"mark":{"type":"rule","color":"#8a8a8a","strokeWidth":0.8,"strokeDash":[2,2]},
"encoding":{"x":{"field":"t","type":"temporal","scale":{"type":"utc","domain":[{"year":2004,"month":1,"date":1,"utc":true},{"year":2018,"month":1,"date":1,"utc":true}],"nice":false},"axis":null},
"y":{"datum":0,"type":"quantitative","scale":{"domain":[0,80],"nice":false},"axis":null},"y2":{"datum":80}}},
{"data":{"name":"f"},"mark":{"type":"area","color":"#1c80f0","opacity":1},
"encoding":{"x":{"field":"t","type":"temporal","scale":{"type":"utc","domain":[{"year":2004,"month":1,"date":1,"utc":true},{"year":2018,"month":1,"date":1,"utc":true}],"nice":false},"axis":null},
"y":{"field":"b","type":"quantitative","scale":{"domain":[0,80],"nice":false},"stack":null,"axis":{"title":"Durchfl Reinwasser : l/sek","titleColor":"#333","titlePadding":3,"values":[0,5,10,15,20,25,30,35,40,45,50,55,60,65,70,75,80],"domainColor":"#1c80f0","domainWidth":2,"tickColor":"#444","grid":true}}}},
{"data":{"name":"s"},"mark":{"type":"rule","color":"#3a90f2","strokeWidth":1.2},
"encoding":{"x":{"field":"t","type":"temporal","scale":{"type":"utc","domain":[{"year":2004,"month":1,"date":1,"utc":true},{"year":2018,"month":1,"date":1,"utc":true}],"nice":false},"axis":null},
"y":{"field":"v","type":"quantitative","scale":{"domain":[0,80],"nice":false},"axis":null},"y2":{"datum":0}}},
{"data":{"name":"f"},"mark":{"type":"line","color":"#000000","strokeWidth":1.1},
"encoding":{"x":{"field":"t","type":"temporal","scale":{"type":"utc","domain":[{"year":2004,"month":1,"date":1,"utc":true},{"year":2018,"month":1,"date":1,"utc":true}],"nice":false},"axis":null},
"y":{"field":"k","type":"quantitative","scale":{"domain":[0,80],"nice":false},"axis":{"orient":"right","title":"Tagesmittelwert [l/s]","titleColor":"#333","titleAngle":-90,"titleBaseline":"top","titlePadding":35,"values":[0,5,10,15,20,25,30,35,40,45,50,55,60,65,70,75,80],"domainColor":"#000","domainWidth":3,"tickColor":"#000","grid":false}}}},
{"data":{"name":"ty"},
"encoding":{"x":{"field":"t","type":"temporal","scale":{"type":"utc","domain":[{"year":2004,"month":1,"date":1,"utc":true},{"year":2018,"month":1,"date":1,"utc":true}],"nice":false},"axis":null},
"y":{"datum":0,"type":"quantitative","scale":{"domain":[0,80],"nice":false},"axis":null}},
"layer":[
{"mark":{"type":"rule","color":"#444","strokeWidth":1,"y2Offset":5},"encoding":{"y2":{"datum":0}}},
{"mark":{"type":"text","fontSize":8,"color":"#555","yOffset":10,"baseline":"middle"},"encoding":{"text":{"field":"l","type":"nominal"}}},
{"mark":{"type":"text","text":"00:00:00","fontSize":8,"color":"#555","yOffset":20,"baseline":"middle"}}
]},
{"data":{"values":[{"a":1}]},"mark":{"type":"rule","color":"#333","strokeWidth":1},
"encoding":{"x":{"datum":{"year":2004,"month":1,"date":1,"utc":true},"type":"temporal","scale":{"type":"utc","domain":[{"year":2004,"month":1,"date":1,"utc":true},{"year":2018,"month":1,"date":1,"utc":true}],"nice":false},"axis":null},"x2":{"datum":{"year":2018,"month":1,"date":1,"utc":true}},
"y":{"datum":0,"type":"quantitative","scale":{"domain":[0,80],"nice":false},"axis":null}}},
{"data":{"values":[{"a":1}]},"mark":{"type":"text","text":"Brunnenmonitoring Burgenland - Klimadaten - REW-Abgabe WAB Heiligenkreuz","fontSize":10.5,"fontWeight":"bold","color":"#1a1a1a","yOffset":36,"baseline":"middle"},
"encoding":{"x":{"datum":{"year":2011,"month":1,"date":1,"utc":true},"type":"temporal","scale":{"type":"utc","domain":[{"year":2004,"month":1,"date":1,"utc":true},{"year":2018,"month":1,"date":1,"utc":true}],"nice":false},"axis":null},
"y":{"datum":0,"type":"quantitative","scale":{"domain":[0,80],"nice":false},"axis":null}}},
{"data":{"name":"yr"},
"layer":[
{"mark":{"type":"point","shape":"circle","filled":true,"color":"#8b1010","size":40,"opacity":1},"encoding":{"x":{"field":"t","type":"temporal","scale":{"type":"utc","domain":[{"year":2004,"month":1,"date":1,"utc":true},{"year":2018,"month":1,"date":1,"utc":true}],"nice":false},"axis":null},"y":{"field":"mx","type":"quantitative","scale":{"domain":[0,80],"nice":false},"axis":null}}},
{"mark":{"type":"point","shape":"M-3.4,-1.4H3.4V1.4H-3.4Z","filled":true,"fill":"#a50f15","stroke":"#5a0000","strokeWidth":0.7,"size":100,"yOffset":-12,"opacity":1},"encoding":{"x":{"field":"t","type":"temporal","scale":{"type":"utc","domain":[{"year":2004,"month":1,"date":1,"utc":true},{"year":2018,"month":1,"date":1,"utc":true}],"nice":false},"axis":null},"y":{"field":"mx","type":"quantitative","scale":{"domain":[0,80],"nice":false},"axis":null}}},
{"mark":{"type":"text","fontSize":11,"fontWeight":"bold","color":"#ffffff","yOffset":-12,"baseline":"middle"},"encoding":{"x":{"field":"t","type":"temporal","scale":{"type":"utc","domain":[{"year":2004,"month":1,"date":1,"utc":true},{"year":2018,"month":1,"date":1,"utc":true}],"nice":false},"axis":null},"y":{"field":"mx","type":"quantitative","scale":{"domain":[0,80],"nice":false},"axis":null},"text":{"field":"mx","type":"quantitative","format":".1f"}}},
{"mark":{"type":"point","shape":"diamond","filled":true,"fill":"#ffffff","stroke":"#557080","strokeWidth":0.8,"size":22,"opacity":1},"encoding":{"x":{"field":"t","type":"temporal","scale":{"type":"utc","domain":[{"year":2004,"month":1,"date":1,"utc":true},{"year":2018,"month":1,"date":1,"utc":true}],"nice":false},"axis":null},"y":{"field":"mt","type":"quantitative","scale":{"domain":[0,80],"nice":false},"axis":null}}},
{"mark":{"type":"point","shape":"M-3.4,-1.4H3.4V1.4H-3.4Z","filled":true,"fill":"#b0ffff","stroke":"#2f7f7f","strokeWidth":0.7,"size":100,"yOffset":-13,"opacity":1},"encoding":{"x":{"field":"t","type":"temporal","scale":{"type":"utc","domain":[{"year":2004,"month":1,"date":1,"utc":true},{"year":2018,"month":1,"date":1,"utc":true}],"nice":false},"axis":null},"y":{"field":"mt","type":"quantitative","scale":{"domain":[0,80],"nice":false},"axis":null}}},
{"mark":{"type":"text","fontSize":11,"fontWeight":"bold","color":"#0a2a2a","yOffset":-13,"baseline":"middle"},"encoding":{"x":{"field":"t","type":"temporal","scale":{"type":"utc","domain":[{"year":2004,"month":1,"date":1,"utc":true},{"year":2018,"month":1,"date":1,"utc":true}],"nice":false},"axis":null},"y":{"field":"mt","type":"quantitative","scale":{"domain":[0,80],"nice":false},"axis":null},"text":{"field":"mt","type":"quantitative","format":".1f"}}},
{"mark":{"type":"point","shape":"M-1.3,-0.2H1.3V0.2H-1.3Z","filled":true,"color":"#000000","size":100,"opacity":1},"encoding":{"x":{"field":"t","type":"temporal","scale":{"type":"utc","domain":[{"year":2004,"month":1,"date":1,"utc":true},{"year":2018,"month":1,"date":1,"utc":true}],"nice":false},"axis":null},"y":{"field":"jm","type":"quantitative","scale":{"domain":[0,80],"nice":false},"axis":null}}},
{"mark":{"type":"point","shape":"M-3.4,-1.4H3.4V1.4H-3.4Z","filled":true,"fill":"#ffffff","stroke":"#222","strokeWidth":0.8,"size":100,"yOffset":-11,"opacity":1},"encoding":{"x":{"field":"t","type":"temporal","scale":{"type":"utc","domain":[{"year":2004,"month":1,"date":1,"utc":true},{"year":2018,"month":1,"date":1,"utc":true}],"nice":false},"axis":null},"y":{"field":"jm","type":"quantitative","scale":{"domain":[0,80],"nice":false},"axis":null}}},
{"mark":{"type":"text","fontSize":11,"fontWeight":"bold","color":"#111","yOffset":-11,"baseline":"middle"},"encoding":{"x":{"field":"t","type":"temporal","scale":{"type":"utc","domain":[{"year":2004,"month":1,"date":1,"utc":true},{"year":2018,"month":1,"date":1,"utc":true}],"nice":false},"axis":null},"y":{"field":"jm","type":"quantitative","scale":{"domain":[0,80],"nice":false},"axis":null},"text":{"field":"jm","type":"quantitative","format":".1f"}}}
]}
]}
]
}
